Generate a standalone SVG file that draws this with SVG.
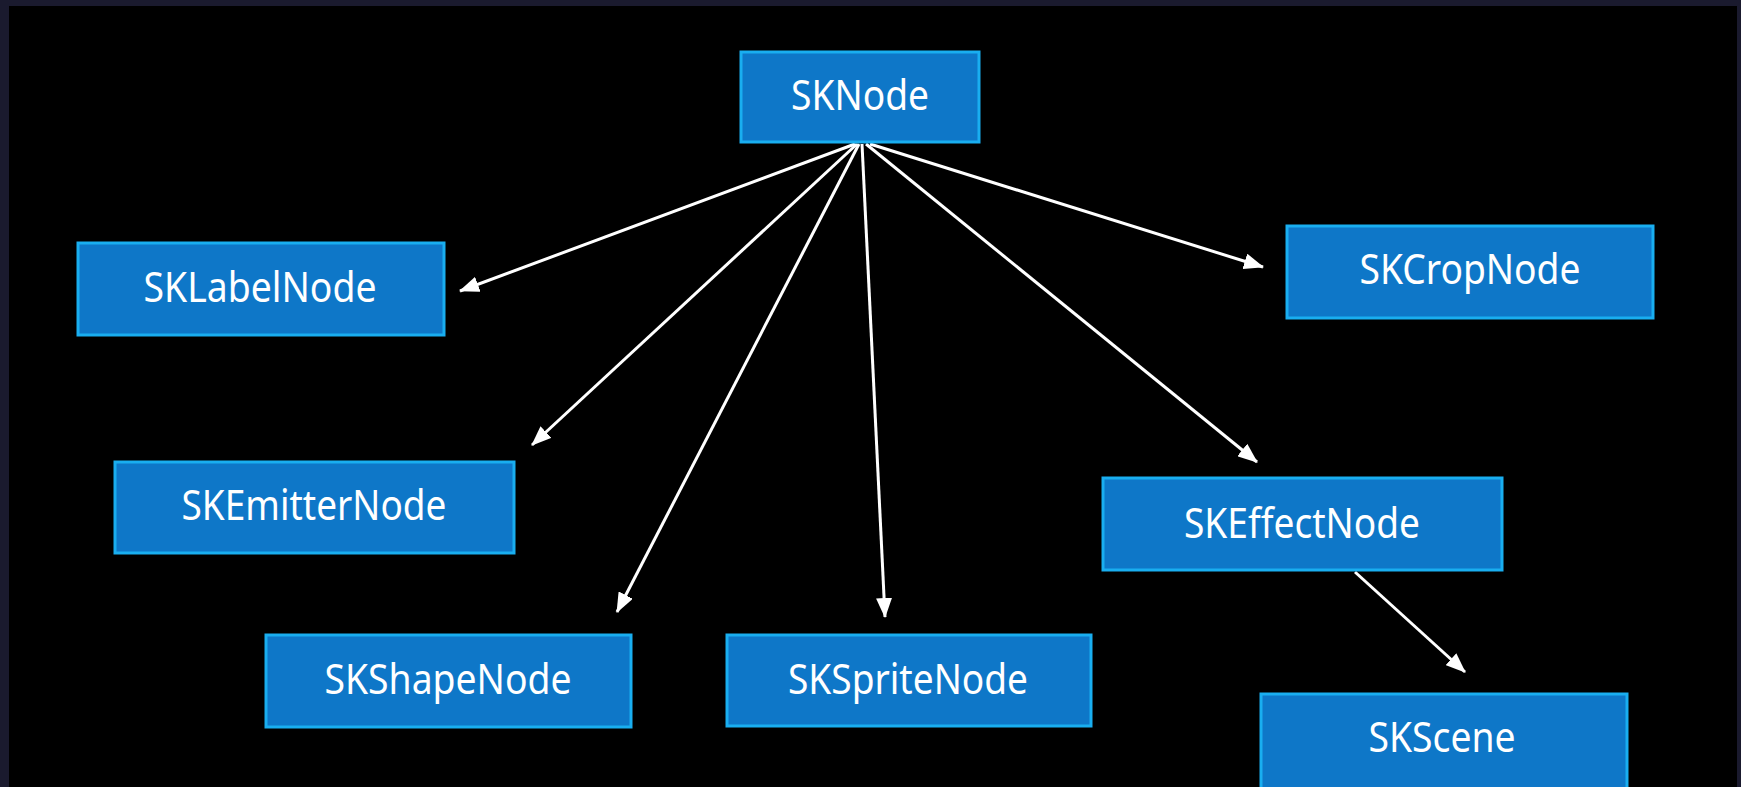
<svg xmlns="http://www.w3.org/2000/svg" width="1741" height="787" viewBox="0 0 1741 787">
<style>
.box{fill:#0e77c8;stroke:#19aef0;stroke-width:3}
.lbl{font-family:"Noto Sans","Open Sans",sans-serif;font-size:42px;fill:#ffffff;text-anchor:middle}
.edge{stroke:#ffffff;stroke-width:3;fill:none;marker-end:url(#arr)}
</style>
<defs>
<marker id="arr" markerUnits="userSpaceOnUse" markerWidth="20" markerHeight="16" viewBox="0 0 20 16" refX="19" refY="8" orient="auto">
<path d="M0,0 L20,8 L0,16 Z" fill="#ffffff"/>
</marker>
</defs>
<rect x="0" y="0" width="1741" height="787" fill="#1a1a2e"/>
<rect x="9" y="6" width="1728" height="781" fill="#000000"/>
<g id="connectors">
<line class="edge" x1="855" y1="144" x2="460" y2="291"/>
<line class="edge" x1="857" y1="144" x2="532" y2="445"/>
<line class="edge" x1="859" y1="144" x2="617" y2="612"/>
<line class="edge" x1="862" y1="144" x2="885" y2="617"/>
<line class="edge" x1="866" y1="144" x2="1257" y2="462"/>
<line class="edge" x1="870" y1="144" x2="1263" y2="267"/>
<line class="edge" x1="1355" y1="572" x2="1465" y2="672"/>
</g>
<g id="SKNode"><rect class="box" x="741" y="52" width="238" height="90"/><text class="lbl" x="860" y="110" textLength="138" lengthAdjust="spacingAndGlyphs">SKNode</text></g>
<g id="SKLabelNode"><rect class="box" x="78" y="243" width="366" height="92"/><text class="lbl" x="260" y="302" textLength="233" lengthAdjust="spacingAndGlyphs">SKLabelNode</text></g>
<g id="SKCropNode"><rect class="box" x="1287" y="226" width="366" height="92"/><text class="lbl" x="1470" y="284" textLength="221" lengthAdjust="spacingAndGlyphs">SKCropNode</text></g>
<g id="SKEmitterNode"><rect class="box" x="115" y="462" width="399" height="91"/><text class="lbl" x="314" y="520" textLength="265" lengthAdjust="spacingAndGlyphs">SKEmitterNode</text></g>
<g id="SKEffectNode"><rect class="box" x="1103" y="478" width="399" height="92"/><text class="lbl" x="1302" y="538" textLength="236" lengthAdjust="spacingAndGlyphs">SKEffectNode</text></g>
<g id="SKShapeNode"><rect class="box" x="266" y="635" width="365" height="92"/><text class="lbl" x="448" y="694" textLength="247" lengthAdjust="spacingAndGlyphs">SKShapeNode</text></g>
<g id="SKSpriteNode"><rect class="box" x="727" y="635" width="364" height="91"/><text class="lbl" x="908" y="694" textLength="240" lengthAdjust="spacingAndGlyphs">SKSpriteNode</text></g>
<g id="SKScene"><rect class="box" x="1261" y="694" width="366" height="100"/><text class="lbl" x="1442" y="752" textLength="147" lengthAdjust="spacingAndGlyphs">SKScene</text></g>
</svg>
